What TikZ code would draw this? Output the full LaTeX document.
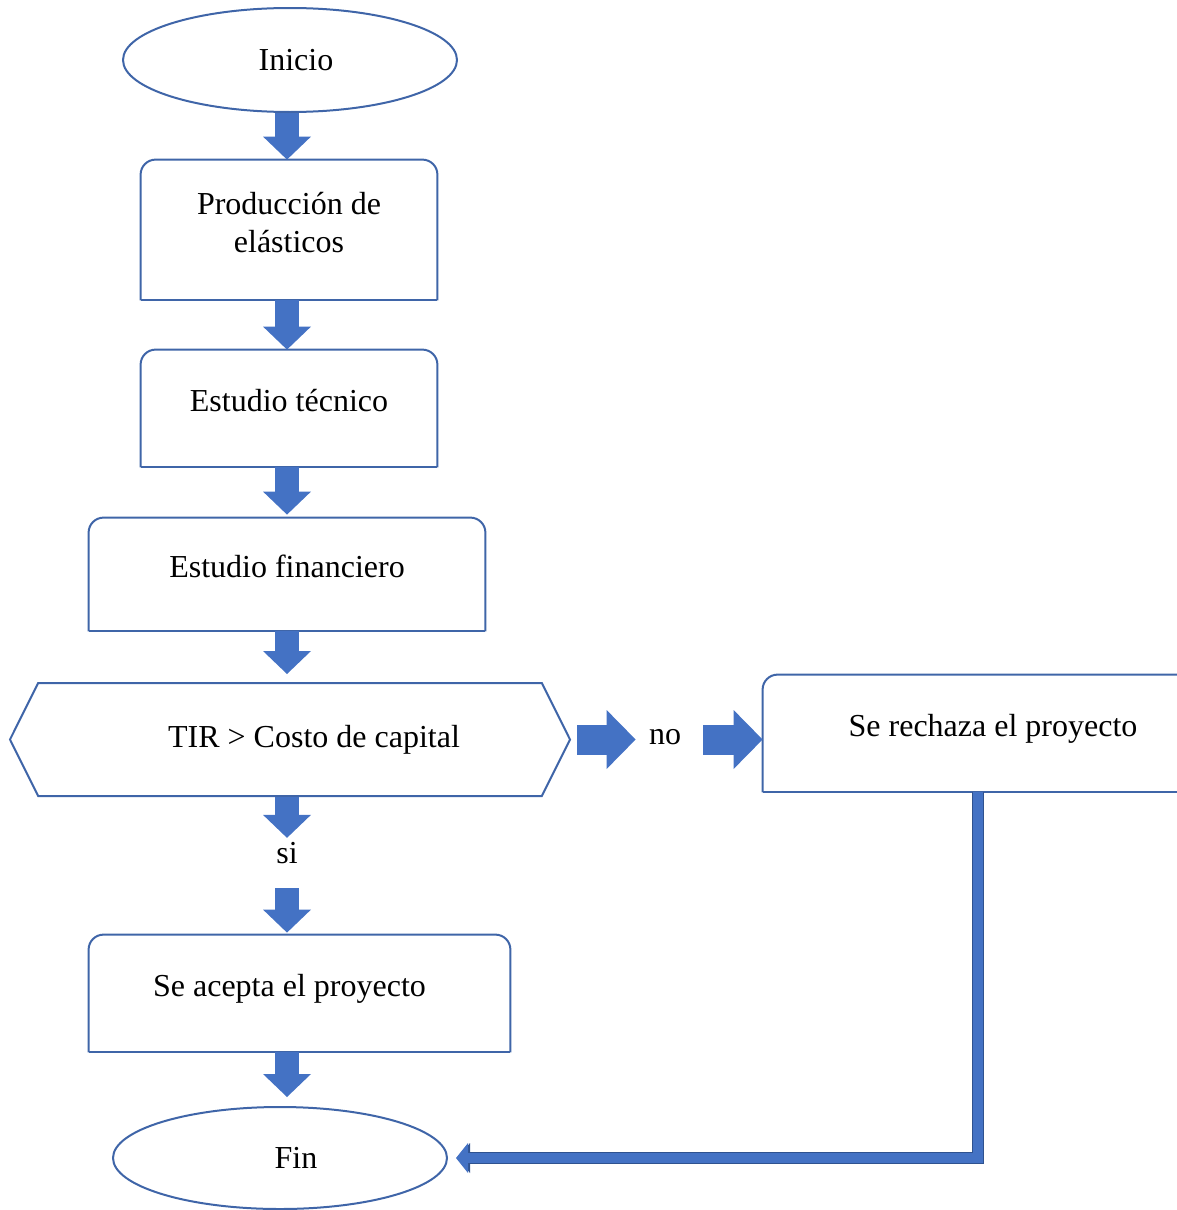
\documentclass[tikz,border=0pt]{standalone}
\usepackage{fontspec}
\setmainfont{Liberation Serif}
\usepackage{xcolor}
\usetikzlibrary{arrows.meta,shapes.geometric,shapes.symbols}

\definecolor{blkfill}{HTML}{4472C4}
\definecolor{blkedge}{HTML}{2F528F}
\definecolor{outl}{HTML}{3F65A8}

% box outline with rounded top corners only
\newcommand{\topround}[1]{%
  \draw[outline] (#1.south west) -- (#1.north west) -- (#1.north east) -- (#1.south east);
  \draw[outline] (#1.south west) -- (#1.south east);}

\begin{document}
\begin{tikzpicture}[
  x=0.5pt,y=-0.5pt,
  font=\fontsize{16}{19}\selectfont,
  box/.style={minimum width=148pt,minimum height=58.5pt,inner sep=0pt,
              align=center,text height=11pt,text depth=8pt},
  term/.style={ellipse,draw=outl,line width=1pt,minimum width=167pt,
               minimum height=52pt,inner sep=0pt},
  ask/.style={signal,signal to=west and east,signal pointer angle=127,
              draw=outl,line width=1pt,minimum width=280pt,minimum height=56.5pt,
              inner sep=0pt},
  word/.style={inner sep=2pt},
  outline/.style={draw=outl,line width=1pt,rounded corners=7.5pt},
  flow/.style={draw=blkfill,line width=12pt,
               -{Triangle[length=11.5pt,width=24pt,line width=0pt]}},
  side/.style={draw=blkfill,line width=15pt,
               -{Triangle[length=14.5pt,width=29.5pt,line width=0pt]}},
  back/.style={draw=blkfill,line width=5pt,
               -{Triangle[length=6pt,width=15pt,line width=0pt]},
               preaction={draw=blkedge,line width=6.2pt,shorten >=5pt}},
]
\useasboundingbox (0,0) rectangle (1177,1210);

% main column
\node[term] (start) at (290,60) {\hspace*{6pt}Inicio};
\node[box,minimum height=70pt,text height=30pt] (prod) at (289,230) {Producción de\\elásticos};
\node[box] (tec) at (289,408.5) {Estudio técnico};
\node[box,minimum width=198pt,minimum height=56.5pt] (finan) at (287,574.5) {Estudio financiero};
\node[ask] (tir) at (290,739.5) {\hspace*{24pt}TIR > Costo de capital};
\node[word] (si) at (287,853) {si};
\node[box,minimum width=210.5pt] (acep) at (299.5,993.5) {Se acepta el proyecto\hspace*{10pt}};
\node[term,minimum height=51pt] (stop) at (280,1158) {\hspace*{16pt}Fin};

% rejection branch
\node[word] (no) at (665,737) {no};
\node[box,minimum width=230pt] (rech) at (993,733.5) {Se rechaza el proyecto};
\coordinate (turn) at (978,1158);

\topround{prod}
\topround{tec}
\topround{finan}
\topround{acep}
\topround{rech}

\draw[flow] (start.south -| si) -- (prod.north -| si);
\draw[flow] (prod.south -| si) -- (tec.north -| si);
\draw[flow,shorten >=1.5pt] (tec.south -| si) -- (finan.north -| si);
\draw[flow,shorten >=4pt] (finan.south -| si) -- (tir.north -| si);
\draw[flow] (tir.south -| si) -- (si.north);
\draw[flow,shorten <=10pt,shorten >=1pt] (si.south) -- (acep.north -| si);
\draw[flow,shorten >=4.5pt] (acep.south -| si) -- (stop.north -| si);

\draw[side,shorten <=3pt,shorten >=4.5pt] (tir.east) -- (no.west |- tir.east);
\draw[side,shorten <=9pt] (no.east |- tir.east) -- (rech.west |- tir.east);
\draw[back,shorten >=4pt] (turn |- rech.south) -- (turn) -- (stop.east);
\end{tikzpicture}
\end{document}
